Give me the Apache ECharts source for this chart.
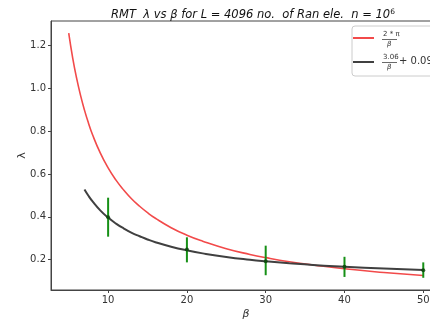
<!DOCTYPE html>
<html><head><meta charset="utf-8">
<script src="https://cdn.jsdelivr.net/npm/echarts@6/dist/echarts.min.js"></script>
<style>html,body{margin:0;padding:0;background:#fff}#c{width:430px;height:324px}</style>
</head><body><div id="c"></div>
<script>
// Red curve (2*pi/beta), sampled
const redBeta = [5,5.5,6,6.5,7,7.5,8,9,10,11,12,13,14,15,16,18,20,22,25,28,30,33,36,40,45,50];
const redLambda = [1.257,1.142,1.047,0.967,0.898,0.838,0.785,0.698,0.628,0.571,0.524,0.483,0.449,0.419,0.393,0.349,0.314,0.286,0.251,0.224,0.209,0.190,0.175,0.157,0.140,0.126];
// Black fit curve (3.06/beta + 0.09), sampled
const fitBeta = [7,7.5,8,9,10,11,12,13,14,15,16,18,20,22,25,28,30,33,36,40,45,50];
const fitLambda = [0.527,0.498,0.473,0.430,0.396,0.368,0.345,0.325,0.309,0.294,0.281,0.260,0.243,0.229,0.212,0.199,0.192,0.183,0.175,0.167,0.158,0.151];
// Measured points with error bars
const ptBeta = [10,20,30,40,50];
const ptMean = [0.398,0.247,0.192,0.167,0.150];
const ptLow  = [0.307,0.187,0.127,0.119,0.115];
const ptHigh = [0.489,0.304,0.265,0.213,0.187];
// Ticks
const xTicks = [10,20,30,40,50];
const yTicks = [0.2,0.4,0.6,0.8,1.0,1.2];

const chart = echarts.init(document.getElementById('c'));
const zip = (a,b)=>a.map((v,i)=>[v,b[i]]);
const tickFont = {fontFamily:'DejaVu Sans', fontSize:10, color:'#333'};
chart.setOption({
  animation:false,
  title:{
    text:'{t|RMT  λ vs β for L = 4096 no.  of Ran ele.  n = 10}{s|6}',
    left:248, top:3, textAlign:'center',
    textStyle:{fontWeight:'normal', rich:{
      t:{fontFamily:'DejaVu Sans', fontStyle:'italic', fontWeight:'normal', fontSize:11.5, color:'#111'},
      s:{fontFamily:'DejaVu Sans', fontWeight:'normal', fontSize:7.5, color:'#111', verticalAlign:'top', padding:[0,0,6,0]}
    }}
  },
  grid:{left:51, top:21, width:390, height:269, show:true, borderColor:'#444', borderWidth:1, backgroundColor:'#fff', outerBoundsMode:'none', containLabel:false},
  xAxis:{
    type:'value', min:2.75, max:52.25,
    name:'β', nameLocation:'middle', nameGap:19, nameMoveOverlap:false,
    nameTextStyle:{fontFamily:'DejaVu Sans', fontStyle:'italic', fontSize:11, color:'#333'},
    axisLine:{lineStyle:{color:'#444'}},
    axisTick:{show:true, length:3, customValues:xTicks, lineStyle:{color:'#444'}},
    axisLabel:{customValues:xTicks, ...tickFont, margin:5},
    splitLine:{show:false}
  },
  yAxis:{
    type:'value', min:0.058, max:1.314,
    name:'λ', nameLocation:'middle', nameGap:23, nameRotate:90, nameMoveOverlap:false,
    nameTextStyle:{fontFamily:'DejaVu Sans', fontSize:11, color:'#333'},
    axisLine:{show:true, lineStyle:{color:'#444'}},
    axisTick:{show:true, length:3, customValues:yTicks, lineStyle:{color:'#444'}},
    axisLabel:{customValues:yTicks, formatter:v=>v.toFixed(1), ...tickFont, margin:5},
    splitLine:{show:false}
  },
  legend:{
    orient:'vertical', left:352, top:26, padding:[2,1,4,1], itemGap:4,
    itemWidth:21, itemHeight:2, icon:'rect',
    borderColor:'#ccc', borderWidth:1, borderRadius:3, backgroundColor:'#fff',
    data:['red','fit'],
    formatter:()=>'{w| }',
    textStyle:{fontSize:10, lineHeight:20, rich:{w:{width:70, height:20, lineHeight:20, fontSize:10}}}
  },
  graphic:[
    {type:'text', left:383, top:31, z:100, style:{text:'2 * π', fontFamily:'DejaVu Sans', fontSize:7, fill:'#333'}},
    {type:'rect', z:100, shape:{x:382, y:39, width:15, height:0.8}, style:{fill:'#444'}},
    {type:'text', left:387, top:40.5, z:100, style:{text:'β', fontFamily:'DejaVu Sans', fontStyle:'italic', fontSize:7, fill:'#333'}},
    {type:'text', left:383, top:54, z:100, style:{text:'3.06', fontFamily:'DejaVu Sans', fontSize:7, fill:'#333'}},
    {type:'rect', z:100, shape:{x:382, y:62, width:15, height:0.8}, style:{fill:'#444'}},
    {type:'text', left:387, top:63.5, z:100, style:{text:'β', fontFamily:'DejaVu Sans', fontStyle:'italic', fontSize:7, fill:'#333'}},
    {type:'text', left:399, top:56.5, z:100, style:{text:'+ 0.09', fontFamily:'DejaVu Sans', fontSize:10, fill:'#333'}}
  ],
  series:[
    {name:'red', type:'line', data:zip(redBeta,redLambda), smooth:true, showSymbol:false,
     color:'#f24a4a', lineStyle:{color:'#f24a4a', width:1.6}, z:2},
    {name:'fit', type:'line', data:zip(fitBeta,fitLambda), smooth:true, showSymbol:false,
     color:'#404040', lineStyle:{color:'#404040', width:2}, z:3},
    {name:'err', type:'custom',
     data:ptBeta.map((b,i)=>[b,ptLow[i],ptHigh[i]]),
     encode:{x:0, y:[1,2]},
     renderItem:(params, api)=>{
       const x=api.value(0);
       const lo=api.coord([x,api.value(1)]), hi=api.coord([x,api.value(2)]);
       return {type:'line', shape:{x1:lo[0],y1:lo[1],x2:hi[0],y2:hi[1]}, style:{stroke:'#169016', lineWidth:2}};
     }, z:4},
    {name:'pts', type:'scatter', data:zip(ptBeta,ptMean), symbolSize:4,
     itemStyle:{color:'#0a3f0a'}, z:5}
  ]
});
</script></body></html>
